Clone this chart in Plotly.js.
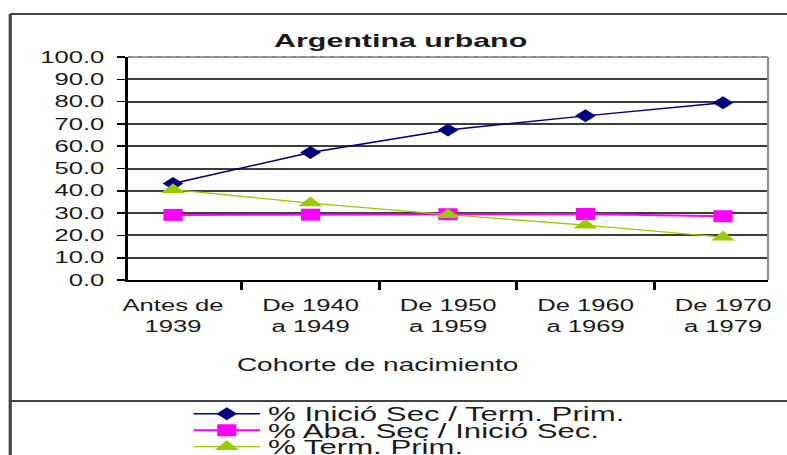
<!DOCTYPE html>
<html>
<head>
<meta charset="utf-8">
<script src="https://cdn.plot.ly/plotly-3.0.1.min.js"></script>
<style>
  html, body { margin: 0; padding: 0; background: #ffffff; }
  #wrap { width: 787px; height: 455px; overflow: hidden; background: #ffffff; position: relative; }
  #chart { width: 492px; height: 455px; transform: scaleX(1.6); transform-origin: 0 0; }
</style>
</head>
<body>
<div id="wrap"><div id="chart"></div></div>
<script>
// ---- data ----
const categories = ["Antes de<br>1939", "De 1940<br>a 1949", "De 1950<br>a 1959", "De 1960<br>a 1969", "De 1970<br>a 1979"];
const seriesNames = ["% Inició Sec / Term. Prim.", "% Aba. Sec / Inició Sec.", "% Term. Prim."];
const inicioSec = [43.3, 57.2, 67.3, 73.6, 79.5];
const abandonoSec = [29.2, 29.3, 29.5, 29.6, 28.6];
const termPrim = [40.5, 34.5, 29.3, 24.6, 19.2];
const yTicks = [0, 10, 20, 30, 40, 50, 60, 70, 80, 90, 100];
const chartTitle = "Argentina urbano";
const xTitle = "Cohorte de nacimiento";

// ---- styles ----
const FONT = "Liberation Sans, Arial, sans-serif";
const TXT = "#1a1a1a";
const colors = ["#000080", "#FF00FF", "#99CC00"];
const symbols = ["diamond", "square", "triangle-up"];
const sizes = [10, 12, 13];
const widths = [1.5, 2, 1.3];
const values = [inicioSec, abandonoSec, termPrim];
const legendIds = ["legend", "legend2", "legend3"];

const traces = values.map((v, i) => ({
  type: "scatter",
  mode: "lines+markers",
  x: categories,
  y: v,
  name: seriesNames[i],
  legend: legendIds[i],
  showlegend: true,
  line: { color: colors[i], width: widths[i] },
  marker: { color: colors[i], symbol: symbols[i], size: sizes[i], line: { width: 0 } },
  cliponaxis: false
}));

function legendBox(y) {
  return {
    visible: true,
    x: 0.09, xanchor: "left", xref: "paper",
    y: y, yanchor: "middle", yref: "paper",
    bgcolor: "rgba(0,0,0,0)", borderwidth: 0,
    itemwidth: 41.5,
    font: { family: FONT, size: 19.5, color: TXT }
  };
}

const layout = {
  width: 492,
  height: 455,
  showlegend: true,
  paper_bgcolor: "#ffffff",
  plot_bgcolor: "#ffffff",
  margin: { l: 80, r: 12, t: 57, b: 175, autoexpand: false },
  font: { family: FONT, color: TXT },
  title: {
    text: chartTitle,
    font: { family: FONT, size: 19, color: TXT, weight: "bold" },
    x: 0.509, xref: "container", xanchor: "center",
    y: 0.912, yref: "container", yanchor: "middle"
  },
  xaxis: {
    type: "category",
    categoryorder: "array",
    categoryarray: categories,
    tickson: "boundaries",
    ticks: "outside",
    ticklen: 8,
    tickwidth: 1.6,
    tickcolor: "#000",
    showline: true,
    linecolor: "#000",
    linewidth: 2,
    showgrid: false,
    zeroline: false,
    tickfont: { family: FONT, size: 16, color: TXT },
    ticklabelstandoff: 10
  },
  yaxis: {
    range: [0, 100],
    tickvals: yTicks,
    tickformat: ".1f",
    ticks: "outside",
    ticklen: 5,
    tickwidth: 1.6,
    tickcolor: "#000",
    showline: true,
    linecolor: "#000",
    linewidth: 1.6,
    showgrid: true,
    gridcolor: "#3c3c3c",
    gridwidth: 2,
    zeroline: false,
    tickfont: { family: FONT, size: 16, color: TXT },
    ticklabelstandoff: 5
  },
  annotations: [{
    text: xTitle,
    xref: "paper", yref: "paper",
    x: 0.39, y: -0.381,
    xanchor: "center", yanchor: "middle",
    showarrow: false,
    font: { family: FONT, size: 17.5, color: TXT }
  }],
  shapes: [
    // top plot border (covers 100 gridline)
    { type: "line", xref: "paper", yref: "paper", x0: 0, x1: 1, y0: 1, y1: 1,
      line: { color: "#a0a0a0", width: 2 }, layer: "above" },
    { type: "line", xref: "paper", yref: "paper", x0: 0, x1: 1, y0: 1, y1: 1,
      line: { color: "#707070", width: 1, dash: "dot" }, layer: "above" },
    // right plot border
    { type: "line", xref: "paper", yref: "paper", x0: 1, x1: 1, y0: 0, y1: 1,
      line: { color: "#8a8a8a", width: 1.3 }, layer: "above" },
    // outer chart frame
    { type: "line", xref: "paper", yref: "paper", x0: -0.184, x1: 1.1, y0: 1.1928, y1: 1.1928,
      line: { color: "#444", width: 2 } },
    { type: "line", xref: "paper", yref: "paper", x0: -0.184, x1: -0.184, y0: 1.1928, y1: -0.85,
      line: { color: "#444", width: 2 } },
    { type: "line", xref: "paper", yref: "paper", x0: -0.184, x1: 1.1, y0: -0.5426, y1: -0.5426,
      line: { color: "#444", width: 2 } }
  ],
  legend: legendBox(-0.601),
  legend2: legendBox(-0.675),
  legend3: legendBox(-0.749)
};

Plotly.newPlot("chart", traces, layout, { staticPlot: true, displayModeBar: false });
</script>
</body>
</html>
